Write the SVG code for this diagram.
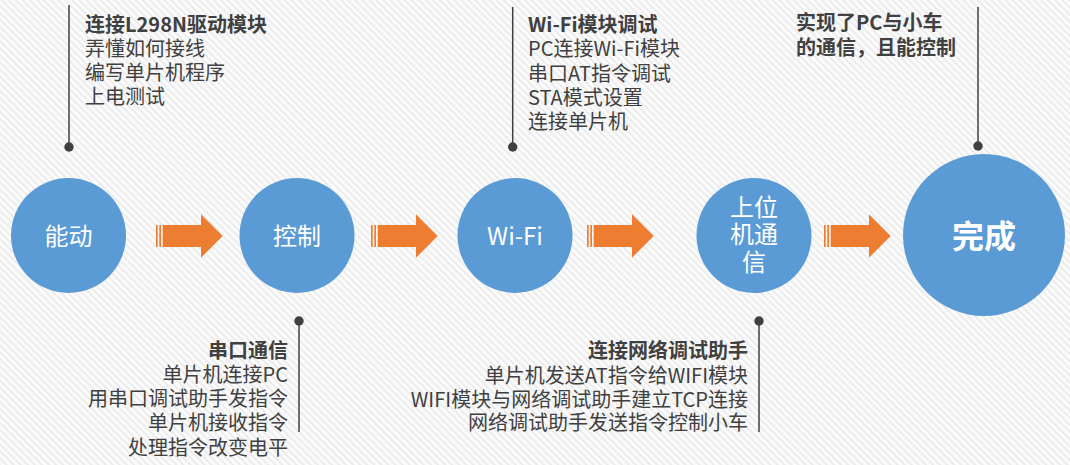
<svg xmlns="http://www.w3.org/2000/svg" width="1070" height="465" viewBox="0 0 1070 465">
  <defs>
    <pattern id="bg" width="5" height="5" patternUnits="userSpaceOnUse" patternTransform="rotate(-45)">
      <rect width="5" height="5" fill="#fbfbfb"/>
      <rect width="2" height="5" fill="#ececec"/>
    </pattern>
    <g id="arrow">
      <rect x="0" y="-11" width="1.7" height="22"/>
      <rect x="3.3" y="-11" width="1.7" height="22"/>
      <polygon points="6.7,-11 45,-11 45,-21.7 66.7,0 45,21.7 45,11 6.7,11"/>
    </g>
  </defs>
  <style>
    .node circle { fill: #5B9BD5; }
    .ct { fill: #ffffff; font-family: "Noto Sans CJK SC", "Noto Sans", sans-serif; font-size: 24px; text-anchor: middle; }
    .t { fill: #404040; font-family: "Noto Sans CJK SC", "Noto Sans", sans-serif; font-size: 20px; }
    .b { font-weight: bold; }
    .r { text-anchor: end; }
    .ln { stroke: #404040; stroke-width: 1.5; fill: none; }
    .dot { fill: #404040; }
    .arr { fill: #ED7D31; }
  </style>
  <rect width="1070" height="465" fill="url(#bg)"/>

  <g id="connectors">
    <use href="#arrow" class="arr" x="156" y="236"/>
    <use href="#arrow" class="arr" x="371" y="236"/>
    <use href="#arrow" class="arr" x="587" y="236"/>
    <use href="#arrow" class="arr" x="824" y="236"/>
    <line class="ln" x1="69" y1="5" x2="69" y2="147"/>
    <circle class="dot" cx="69" cy="147" r="4.7"/>
    <line class="ln" x1="512.7" y1="7" x2="512.7" y2="147"/>
    <circle class="dot" cx="512.7" cy="147" r="4.7"/>
    <line class="ln" x1="978" y1="7" x2="978" y2="146"/>
    <circle class="dot" cx="978" cy="146" r="4.7"/>
    <line class="ln" x1="299" y1="321" x2="299" y2="432"/>
    <circle class="dot" cx="299" cy="321" r="4.7"/>
    <line class="ln" x1="759" y1="321" x2="759" y2="432"/>
    <circle class="dot" cx="759" cy="321" r="4.7"/>
  </g>

  <g id="node-nengdong" class="node">
    <circle cx="68.5" cy="235.5" r="57.5"/>
    <text class="ct" x="68.5" y="244.5">能动</text>
  </g>
  <g id="node-kongzhi" class="node">
    <circle cx="297" cy="235.5" r="57.5"/>
    <text class="ct" x="297" y="244.5">控制</text>
  </g>
  <g id="node-wifi" class="node">
    <circle cx="515" cy="235.5" r="57.5"/>
    <text class="ct" x="515" y="244.5">Wi-Fi</text>
  </g>
  <g id="node-shangweiji" class="node">
    <circle cx="754" cy="235.5" r="57.5"/>
    <text class="ct"><tspan x="754" y="216">上位</tspan><tspan x="754" y="243">机通</tspan><tspan x="754" y="271">信</tspan></text>
  </g>
  <g id="node-wancheng" class="node">
    <circle cx="984" cy="235" r="81"/>
    <text class="ct b" x="984" y="248" style="font-size:32px">完成</text>
  </g>

  <g id="label-l298n">
    <text class="t"><tspan class="b" x="85" y="31.5">连接L298N驱动模块</tspan><tspan x="85" y="55.5">弄懂如何接线</tspan><tspan x="85" y="79.5">编写单片机程序</tspan><tspan x="85" y="103.5">上电测试</tspan></text>
  </g>
  <g id="label-wifi">
    <text class="t"><tspan class="b" x="528" y="32">Wi-Fi模块调试</tspan><tspan x="528" y="56">PC连接Wi-Fi模块</tspan><tspan x="528" y="80.5">串口AT指令调试</tspan><tspan x="528" y="104.5">STA模式设置</tspan><tspan x="528" y="129">连接单片机</tspan></text>
  </g>
  <g id="label-done">
    <text class="t b"><tspan x="796" y="29.5">实现了PC与小车</tspan><tspan x="796" y="54.5">的通信，且能控制</tspan></text>
  </g>
  <g id="label-serial">
    <text class="t r"><tspan class="b" x="288" y="357.5">串口通信</tspan><tspan x="288" y="381.5">单片机连接PC</tspan><tspan x="288" y="406">用串口调试助手发指令</tspan><tspan x="288" y="430">单片机接收指令</tspan><tspan x="288" y="454.5">处理指令改变电平</tspan></text>
  </g>
  <g id="label-net">
    <text class="t r"><tspan class="b" x="748" y="357.5">连接网络调试助手</tspan><tspan x="748" y="383">单片机发送AT指令给WIFI模块</tspan><tspan x="748" y="406.5">WIFI模块与网络调试助手建立TCP连接</tspan><tspan x="748" y="429.5">网络调试助手发送指令控制小车</tspan></text>
  </g>
</svg>
